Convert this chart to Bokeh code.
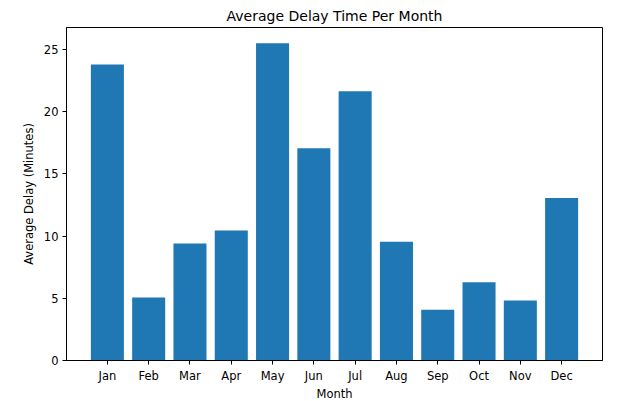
from bokeh.plotting import figure
from bokeh.models import Range1d, FixedTicker
from bokeh.embed import file_html
from bokeh.resources import INLINE

months = ["Jan", "Feb", "Mar", "Apr", "May", "Jun", "Jul", "Aug", "Sep", "Oct", "Nov", "Dec"]
avg_delay = [23.77, 5.06, 9.40, 10.44, 25.49, 17.05, 21.63, 9.53, 4.07, 6.29, 4.82, 13.06]
y_ticks = [0, 5, 10, 15, 20, 25]

xs = list(range(len(months)))

p = figure(
    output_backend="svg",
    toolbar_location=None,
    frame_width=536,
    frame_height=333,
    x_range=Range1d(-0.99, 11.99),
    y_range=Range1d(0, 26.75),
    title="Average Delay Time Per Month",
)
p.min_border_left = 66
p.min_border_right = 12
p.min_border_top = 27
p.min_border_bottom = 30
p.background_fill_color = "white"
p.border_fill_color = "white"

p.vbar(x=xs, top=avg_delay, width=0.8, bottom=0, fill_color="#1f77b4", line_color=None)

font = "DejaVu Sans"
p.title.text_font = font
p.title.text_font_size = "14px"
p.title.text_font_style = "normal"
p.title.text_color = "black"
p.title.align = "center"
p.title.standoff = 8
p.title.offset = 0

p.grid.visible = False
p.outline_line_color = "black"
p.outline_line_width = 1
p.outline_line_alpha = 1

for ax in (p.xaxis[0], p.yaxis[0]):
    ax.axis_line_color = "black"
    ax.major_tick_line_color = "black"
    ax.major_tick_out = 4
    ax.major_tick_in = 0
    ax.minor_tick_line_color = None
    ax.major_label_text_font = font
    ax.major_label_text_font_size = "11.5px"
    ax.major_label_text_color = "black"
    ax.axis_label_text_font = font
    ax.axis_label_text_font_size = "11.5px"
    ax.axis_label_text_font_style = "normal"
    ax.axis_label_text_color = "black"
    ax.major_label_standoff = 4
    ax.axis_label_standoff = 1

p.yaxis[0].axis_label_standoff = 5

p.xaxis.ticker = FixedTicker(ticks=xs)
p.xaxis.major_label_overrides = {i: m for i, m in enumerate(months)}
p.xaxis.axis_label = "Month"
p.yaxis.ticker = FixedTicker(ticks=y_ticks)
p.yaxis.axis_label = "Average Delay (Minutes)"

open("out.html", "w").write(file_html(p, INLINE))
